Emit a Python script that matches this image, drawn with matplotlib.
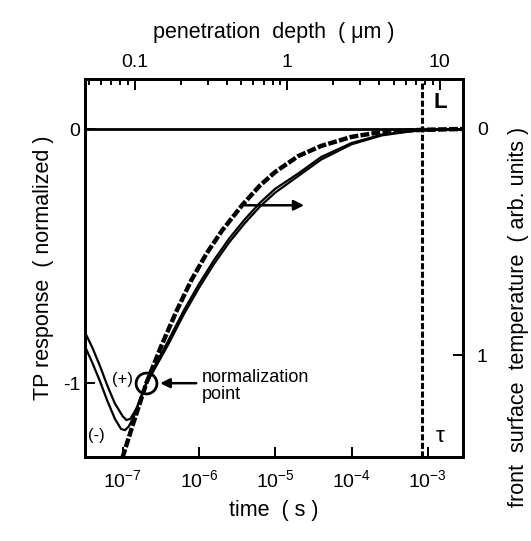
import matplotlib
matplotlib.use("Agg")
import matplotlib.pyplot as plt
import numpy as np
from matplotlib.ticker import FixedLocator, NullLocator, NullFormatter, LogLocator

plt.rcParams['font.family'] = ['Liberation Sans', 'DejaVu Sans']
plt.rcParams['mathtext.fontset'] = 'custom'
plt.rcParams['mathtext.rm'] = 'Liberation Sans'
plt.rcParams['mathtext.default'] = 'regular'
plt.rcParams['axes.unicode_minus'] = False

# TP response, (+) and (-) polarity, normalized at t = 2e-7 s  (left axis)
t_plus = [3.2e-8, 4.0e-8, 5.0e-8, 6.3e-8, 7.9e-8, 1.0e-7, 1.12e-7, 1.26e-7, 1.51e-7, 1.78e-7, 2.04e-7,
          2.5e-7, 4.0e-7, 6.3e-7, 1.0e-6, 1.58e-6, 2.5e-6, 4.0e-6, 6.3e-6, 1.0e-5, 2.0e-5,
          4.0e-5, 1.0e-4, 2.5e-4, 6.3e-4, 1.58e-3, 2.9e-3]
tp_plus = [-0.80, -0.86, -0.93, -1.01, -1.08, -1.13, -1.145, -1.14, -1.10, -1.05, -1.00,
           -0.945, -0.83, -0.715, -0.61, -0.515, -0.43, -0.355, -0.29, -0.235, -0.175,
           -0.11, -0.055, -0.022, -0.007, -0.002, 0.0]

t_minus = [3.2e-8, 4.0e-8, 5.0e-8, 6.3e-8, 7.9e-8, 9.5e-8, 1.07e-7, 1.2e-7, 1.41e-7, 1.7e-7, 2.04e-7,
           2.5e-7, 4.0e-7, 6.3e-7, 1.0e-6, 1.58e-6, 2.5e-6, 4.0e-6, 6.3e-6, 1.0e-5, 2.0e-5,
           4.0e-5, 1.0e-4, 2.5e-4, 6.3e-4, 1.58e-3, 2.9e-3]
tp_minus = [-0.855, -0.92, -0.99, -1.07, -1.14, -1.18, -1.185, -1.17, -1.13, -1.06, -1.00,
            -0.955, -0.845, -0.73, -0.625, -0.53, -0.445, -0.37, -0.305, -0.25, -0.185,
            -0.12, -0.06, -0.025, -0.008, -0.002, 0.0]

# front surface temperature (right axis, arb. units, inverted)
t_temp = [8.9e-8, 1.0e-7, 1.41e-7, 2.04e-7, 3.2e-7, 5.0e-7, 7.9e-7, 1.26e-6, 2.0e-6, 3.7e-6,
          6.3e-6, 1.0e-5, 2.0e-5, 4.0e-5, 1.0e-4, 2.3e-4, 5.0e-4, 8.3e-4, 2.9e-3]
temp = [1.50, 1.45, 1.29, 1.124, 0.96, 0.81, 0.67, 0.55, 0.45, 0.336,
        0.25, 0.19, 0.12, 0.075, 0.035, 0.015, 0.007, 0.004, 0.0]

tau = 8.3e-4          # thermal diffusion time of the film
t_norm = 2.04e-7      # normalization point
x_ticks = [1e-7, 1e-6, 1e-5, 1e-4, 1e-3]
depth_ticks = [0.1, 1, 10]
depth_labels = ['0.1', '1', '10']


def depth(t):
    """penetration depth (um) from time (s)"""
    return 10.0 * np.sqrt(np.asarray(t) / 1.44e-3)


def time_of(d):
    return 1.44e-3 * (np.asarray(d) / 10.0) ** 2


fig = plt.figure(figsize=(5.31, 5.41), dpi=100)
ax = fig.add_axes([0.160, 0.155, 0.712, 0.699])
ax.set_xscale('log')
ax.set_xlim(3.2e-8, 2.9e-3)
ax.set_ylim(-1.291, 0.197)

ax.axhline(0, color='black', lw=2.0, zorder=2)
ax.plot(t_plus, tp_plus, color='black', lw=1.6, zorder=3)
ax.plot(t_minus, tp_minus, color='black', lw=1.6, zorder=3)
ax.axvline(tau, color='black', lw=2.2, ls=(0, (2, 0.8)), zorder=2)

ax.plot([t_norm], [-1.0], 'o', ms=15, mfc='none', mec='black', mew=2.0, zorder=4)
ax.annotate('', xy=(2.85e-7, -1.0), xytext=(1.0e-6, -1.0),
            arrowprops=dict(arrowstyle='-|>', color='black', lw=1.8, mutation_scale=14))
ax.text(1.08e-6, -0.945, 'normalization\npoint', fontsize=13, va='top', ha='left',
        linespacing=0.95)
ax.text(1.0e-7, -0.985, '(+)', fontsize=12, ha='center', va='center')
ax.text(4.5e-8, -1.205, '(-)', fontsize=12, ha='center', va='center')
ax.annotate('', xy=(2.6e-5, -0.30), xytext=(3.7e-6, -0.30),
            arrowprops=dict(arrowstyle='-|>', color='black', lw=1.8, mutation_scale=15))
ax.text(1.45e-3, 0.105, 'L', fontsize=16, fontweight='bold', ha='center', va='center')
ax.text(1.45e-3, -1.21, 'τ', fontsize=16, ha='center', va='center')

ax.xaxis.set_major_locator(FixedLocator(x_ticks))
ax.xaxis.set_minor_locator(NullLocator())
ax.set_yticks([0, -1])
ax.set_yticklabels(['0', '-1'])
ax.tick_params(direction='in', length=7, width=1.4, labelsize=14, top=False, right=False)
ax.tick_params(axis='x', pad=9)
ax.set_xlabel('time  ( s )', fontsize=15.5, labelpad=6)
ax.set_ylabel('TP response  ( normalized )', fontsize=15.5, labelpad=6)

ax2 = ax.twinx()
ax2.set_ylim(1.451, -0.221)
ax2.plot(t_temp, temp, color='black', lw=3.2, ls=(0, (2, 0.5)), zorder=3)
ax2.set_yticks([0, 1])
ax2.set_yticklabels(['0', '1'])
ax2.tick_params(direction='in', length=7, width=1.4, labelsize=14, pad=10)
ax2.set_ylabel('front  surface  temperature  ( arb. units )', fontsize=15.5, rotation=90)
ax2.yaxis.set_label_coords(1.12, 0.37)

top = ax.secondary_xaxis('top', functions=(depth, time_of))
top.xaxis.set_major_locator(FixedLocator(depth_ticks))
top.set_xticklabels(depth_labels)
top.xaxis.set_minor_locator(LogLocator(base=10, subs=np.arange(2, 10)))
top.xaxis.set_minor_formatter(NullFormatter())
top.tick_params(which='major', direction='in', length=8, width=1.4, labelsize=14, pad=6)
top.tick_params(which='minor', direction='in', length=4, width=1.4)
top.set_xlabel('penetration  depth  ( μm )', fontsize=15.5, labelpad=11)

for a in (ax, ax2):
    for s in a.spines.values():
        s.set_linewidth(2.0)
top.spines['top'].set_linewidth(2.0)

fig.savefig('out.png', dpi=100)
